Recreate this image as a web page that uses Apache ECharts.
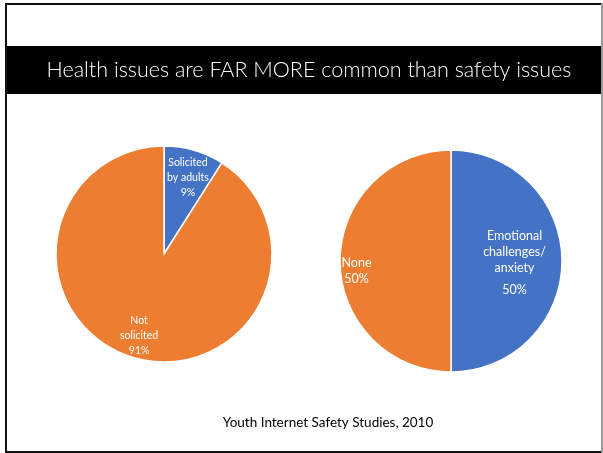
<!DOCTYPE html>
<html>
<head>
<meta charset="utf-8">
<script src="https://cdn.jsdelivr.net/npm/echarts@6/dist/echarts.min.js"></script>
<style>
  html, body { margin: 0; padding: 0; background: #fff; }
  #chart { width: 603px; height: 453px; }
</style>
</head>
<body>
<div id="chart"></div>
<script>
// Slide text
const slideTitle = 'Health issues are FAR MORE common than safety issues';
const sourceNote = 'Youth Internet Safety Studies, 2010';

// Left pie: solicitation
const solicitNames = ['Solicited\nby adults', 'Not\nsolicited'];
const solicitValues = [9, 91];

// Right pie: health
const healthNames = ['Emotional\nchallenges/\nanxiety', 'None'];
const healthValues = [50, 50];

const BLUE = '#4472C4';
const ORANGE = '#ED7D31';
const FONT = 'Lato, "Open Sans", sans-serif';

function buildData(names, values, colors) {
  return names.map((n, i) => ({ name: n, value: values[i], itemStyle: { color: colors[i] } }));
}

// label nudges from the default inside position (px)
const solicitNudge = [{ dx: 8, dy: -22 }, { dx: -9, dy: 27 }];
const healthNudge = [{ dx: 5, dy: 1 }, { dx: -36, dy: 10 }];

const chart = echarts.init(document.getElementById('chart'), null, { renderer: 'canvas' });

chart.setOption({
  animation: false,
  backgroundColor: '#ffffff',
  graphic: [
    // slide frame
    { type: 'rect', shape: { x: 5, y: 3, width: 2, height: 450 }, style: { fill: '#111' }, silent: true },
    { type: 'rect', shape: { x: 5, y: 3, width: 598, height: 2 }, style: { fill: '#111' }, silent: true },
    { type: 'rect', shape: { x: 5, y: 451, width: 598, height: 2 }, style: { fill: '#111' }, silent: true },
    { type: 'rect', shape: { x: 601, y: 3, width: 2, height: 450 }, style: { fill: '#9a9a9a' }, silent: true },
    // title band
    { type: 'rect', shape: { x: 7, y: 46, width: 594, height: 48 }, style: { fill: '#000' }, silent: true },
    {
      type: 'text', x: 309, y: 70, silent: true,
      style: { text: slideTitle, fill: '#fff', font: '300 21.5px ' + FONT, align: 'center', verticalAlign: 'middle' }
    },
    {
      type: 'text', x: 328, y: 423, silent: true,
      style: { text: sourceNote, fill: '#000', font: '13.5px ' + FONT, align: 'center', verticalAlign: 'middle' }
    }
  ],
  series: [
    {
      type: 'pie',
      center: [164, 254],
      radius: 108,
      startAngle: 90,
      clockwise: true,
      silent: true,
      itemStyle: { borderColor: '#fff', borderWidth: 1.5 },
      label: {
        show: true,
        position: 'inside',
        color: '#fff',
        fontFamily: FONT,
        fontSize: 10.5,
        lineHeight: 15,
        align: 'center',
        formatter: p => p.name + '\n' + p.value + '%'
      },
      labelLine: { show: false },
      labelLayout: p => solicitNudge[p.dataIndex],
      data: buildData(solicitNames, solicitValues, [BLUE, ORANGE])
    },
    {
      type: 'pie',
      center: [451, 261],
      radius: 111,
      startAngle: 90,
      clockwise: true,
      silent: true,
      itemStyle: { borderColor: '#fff', borderWidth: 1.5 },
      label: {
        show: true,
        position: 'inside',
        color: '#fff',
        fontFamily: FONT,
        fontSize: 12.5,
        lineHeight: 16,
        align: 'center',
        formatter: p => (p.dataIndex === 0)
          ? p.name + '\n{pct|' + p.value + '%}'
          : p.name + '\n' + p.value + '%',
        rich: {
          pct: { color: '#fff', fontFamily: FONT, fontSize: 12.5, lineHeight: 20, verticalAlign: 'bottom' }
        }
      },
      labelLine: { show: false },
      labelLayout: p => healthNudge[p.dataIndex],
      data: buildData(healthNames, healthValues, [BLUE, ORANGE])
    }
  ]
});
</script>
</body>
</html>
